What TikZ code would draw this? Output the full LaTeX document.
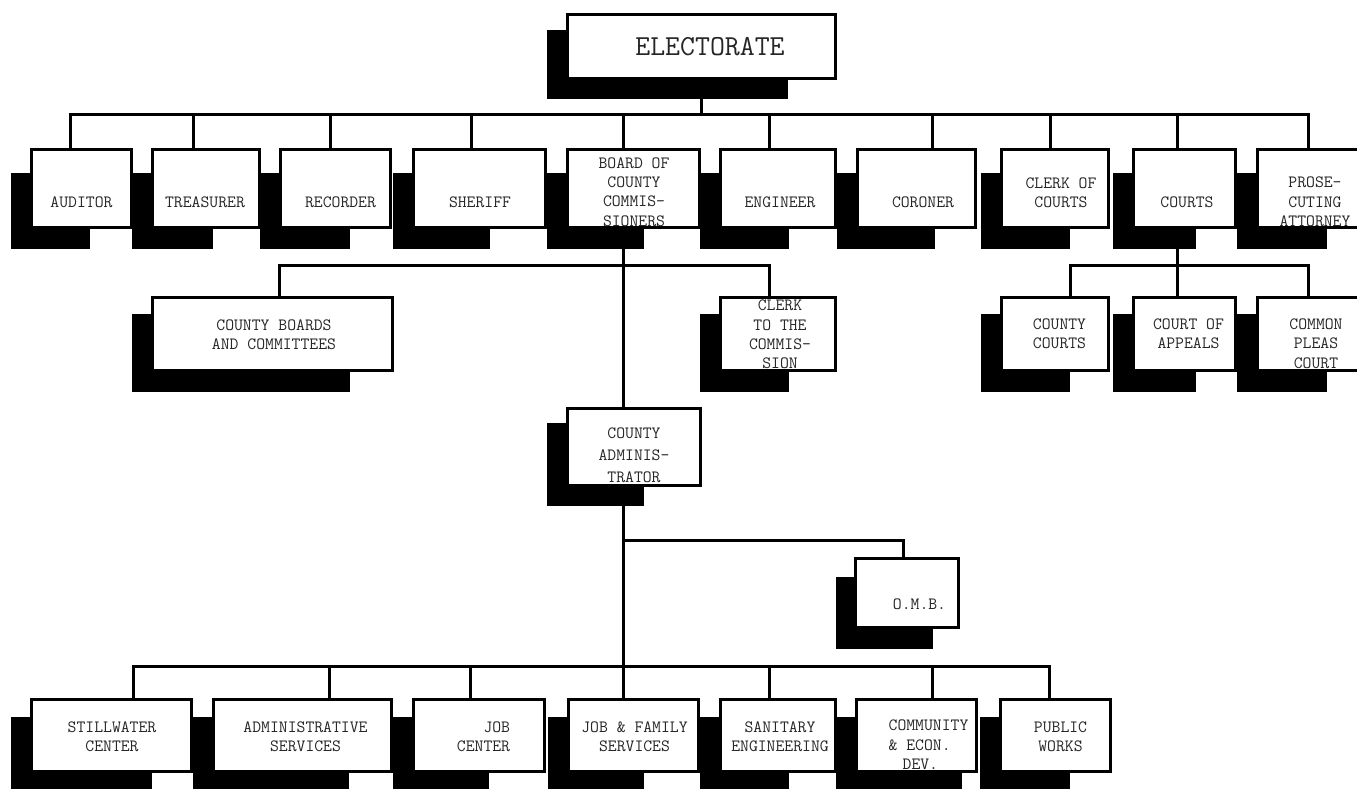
\documentclass[tikz,border=0pt]{standalone}
\usepackage{fontspec}

\tikzset{
	orgbox/.style={draw, line width=3pt, fill=white, inner sep=0pt, outer sep=1.5pt, anchor=north west},
	orgshadow/.style={fill=black},
	orgline/.style={line width=3pt},
	orglabel/.style={font=\ttfamily\fontsize{17.2}{19.3}\selectfont, text=black!85, align=center, inner sep=0pt},
}

\begin{document}
\begin{tikzpicture}[x=1pt, y=-1pt]
		\useasboundingbox (0,0) rectangle (1357,789);
		\fill[white] (0,0) rectangle (1357,789);
		
		% electorate
		\fill[orgshadow] (547,30) rectangle (788,99);
		\node[orgbox, minimum width=268pt, minimum height=64pt] (elect) at (566,13) {};
		\node[orglabel, font=\ttfamily\fontsize{29}{32}\selectfont] (elect-t) at (710,47) {ELECTORATE};
		\coordinate (bus1) at (701.5,115);
		\draw[orgline] (elect.south) -- (bus1);
		
		% elected offices
		\foreach \nm/\l/\r/\s/\d/\tx/\ty/\txt in {
			aud/30/133/90/70/81.5/202/{AUDITOR},
			tre/151/261/213/193/205/202/{TREASURER},
			rec/279/392/350/330/340.5/202/{RECORDER},
			she/412/547/490/471/480/202/{SHERIFF},
			boa/566/701/644/623/634/192/{BOARD OF\\COUNTY\\COMMIS-\\SIONERS},
			eng/719/837/789/769/780/202/{ENGINEER},
			cor/856/977/935/932/923/202/{CORONER},
			clk/1000/1110/1070/1050/1061/192.5/{CLERK OF\\COURTS},
			crt/1132/1237/1196/1177/1187/202/{COURTS},
			pro/1256/1372/1327/1308/1315/202/{PROSE-\\CUTING\\ATTORNEY}}{
			\fill[orgshadow] (\l-19,173) rectangle (\s,249);
			\node[orgbox, minimum width={\r-\l-3}, minimum height=78pt] (\nm) at (\l,148) {};
			\node[orglabel] (\nm-t) at (\tx,\ty) {\txt};
			\draw[orgline] ([xshift={\d-\l}]\nm.north west) |- (bus1);
		}
		
		% second level
		\coordinate (bus2) at (623,265);
		\coordinate (bus5) at (1177,265);
		\foreach \nm/\l/\r/\s/\d/\b/\tx/\ty/\txt in {
			cbd/151/394/350/279/bus2/274/335/{COUNTY BOARDS\\AND COMMITTEES},
			clc/719/837/789/769/bus2/780/334.5/{CLERK\\TO THE\\COMMIS-\\SION},
			cct/1000/1110/1070/1070/bus5/1059.5/334/{COUNTY\\COURTS},
			cap/1132/1237/1196/1177/bus5/1188.5/334/{COURT OF\\APPEALS},
			cpc/1256/1372/1327/1308/bus5/1316/343.5/{COMMON\\PLEAS\\COURT}}{
			\fill[orgshadow] (\l-19,314) rectangle (\s,392);
			\node[orgbox, minimum width={\r-\l-3}, minimum height=73pt] (\nm) at (\l,296) {};
			\node[orglabel] (\nm-t) at (\tx,\ty) {\txt};
			\draw[orgline] ([xshift={\d-\l}]\nm.north west) |- (\b);
		}
		\draw[orgline] ([xshift=45pt]crt.south west) -- (bus5);
		
		% administrator
		\fill[orgshadow] (547,423) rectangle (644,506);
		\node[orgbox, minimum width=133pt, minimum height=77pt] (cadm) at (566,407) {};
		\node[orglabel, font=\ttfamily\fontsize{17.2}{22}\selectfont] (cadm-t) at (634,455) {COUNTY\\ADMINIS-\\TRATOR};
		\draw[orgline] ([xshift=57pt]boa.south west) -- ([xshift=57pt]cadm.north west);
		
		% o.m.b.
		\fill[orgshadow] (836,577) rectangle (933,649);
		\node[orgbox, minimum width=103pt, minimum height=69pt] (omb) at (854,557) {};
		\node[orglabel] (omb-t) at (919.5,604) {O.M.B.};
		\coordinate (bus3) at (623,540);
		\coordinate (bus4) at (623,666);
		\draw[orgline] ([xshift=57pt]cadm.south west) -- (bus4);
		\draw[orgline] ([xshift=49pt]omb.north west) |- (bus3);
		
		% departments
		\foreach \nm/\l/\r/\s/\d/\tx/\txt in {
			stw/30/193/152/133/112/{STILLWATER\\CENTER},
			ads/212/393/349/329/305.5/{ADMINISTRATIVE\\SERVICES},
			jbc/412/546/489/470/483.5/{\hphantom{XXX}JOB\\CENTER},
			jfs/567/700/644/623/634.5/{JOB \& FAMILY\\SERVICES},
			san/719/837/789/769/780/{SANITARY\\ENGINEERING},
			cme/855/978/962/932/0/{},
			pwk/999/1112/1070/1049/1060.5/{PUBLIC\\WORKS}}{
			\fill[orgshadow] (\l-19,717) rectangle (\s,790);
			\node[orgbox, minimum width={\r-\l-3}, minimum height=72pt] (\nm) at (\l,698) {};
			\node[orglabel] (\nm-t) at (\tx,736.5) {\txt};
			\draw[orgline] ([xshift={\d-\l}]\nm.north west) |- (bus4);
		}
		\node[orglabel, align=left] (cme-txt) at (928.5,745) {COMMUNITY\\\& ECON.\\\hspace*{14pt}DEV.};
		
	\end{tikzpicture}
\end{document}
